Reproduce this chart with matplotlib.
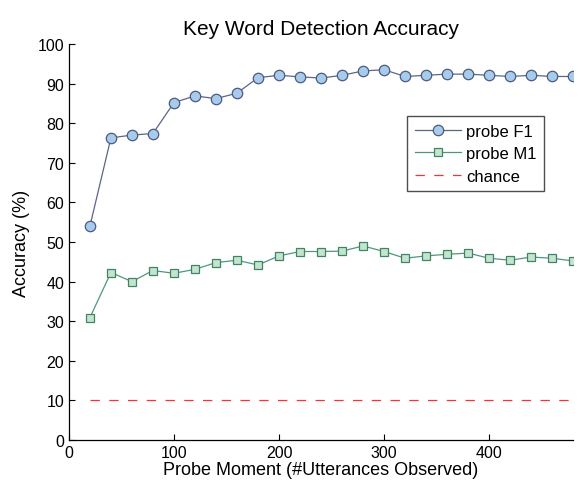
import matplotlib
matplotlib.use("Agg")
import matplotlib.pyplot as plt

plt.rcParams['font.family'] = ['Liberation Sans', 'DejaVu Sans']

x_vals = list(range(20, 481, 20))
f1_vals = [54.0, 76.3, 77.0, 77.4, 85.2, 86.9, 86.2, 87.6, 91.5, 92.1, 91.7, 91.4,
           92.1, 93.2, 93.5, 91.8, 92.1, 92.4, 92.4, 92.1, 91.8, 92.1, 91.8, 91.8]
m1_vals = [30.9, 42.3, 40.0, 42.8, 42.1, 43.1, 44.8, 45.4, 44.2, 46.5, 47.6, 47.6,
           47.7, 49.0, 47.6, 45.9, 46.5, 46.9, 47.2, 45.9, 45.4, 46.2, 45.9, 45.2]
chance_x = [20, 480]
chance_vals = [10, 10]
x_ticks = [0, 100, 200, 300, 400]
y_ticks = list(range(0, 101, 10))

fig = plt.figure(figsize=(5.79, 4.85), dpi=100)
ax = fig.add_axes([0.119, 0.0907, 0.871, 0.8165])

ax.plot(x_vals, f1_vals, '-', color='#5d6587', lw=0.9, marker='o', markersize=7.5,
        markerfacecolor='#a7cbea', markeredgecolor='#4c5a82', markeredgewidth=0.9,
        label='probe F1')
ax.plot(x_vals, m1_vals, '-', color='#4f9680', lw=0.9, marker='s', markersize=6,
        markerfacecolor='#c6e4cd', markeredgecolor='#3e8565', markeredgewidth=0.9,
        label='probe M1')
ax.plot(chance_x, chance_vals, '--', color='#ff3030', lw=0.9, dashes=(7.5, 7.5),
        label='chance')

ax.set_xlim(0, 480)
ax.set_ylim(0, 100)
ax.set_xticks(x_ticks)
ax.set_yticks(y_ticks)
ax.tick_params(direction='in', labelsize=11.5, length=4, width=0.8)
for s in ['top', 'right']:
    ax.spines[s].set_visible(False)
for s in ['left', 'bottom']:
    ax.spines[s].set_linewidth(0.9)

ax.set_title('Key Word Detection Accuracy', fontsize=15, pad=7)
ax.set_xlabel('Probe Moment (#Utterances Observed)', fontsize=13, labelpad=1)
ax.set_ylabel('Accuracy (%)', fontsize=13, labelpad=5)

leg = ax.legend(loc='upper left', bbox_to_anchor=(0.671, 0.818), fontsize=12,
                frameon=True, fancybox=False, edgecolor='#222222', handlelength=2.8,
                borderpad=0.45, labelspacing=0.45, handletextpad=0.3, borderaxespad=0)
leg.get_frame().set_linewidth(1.0)

fig.savefig('out.png', dpi=100)
